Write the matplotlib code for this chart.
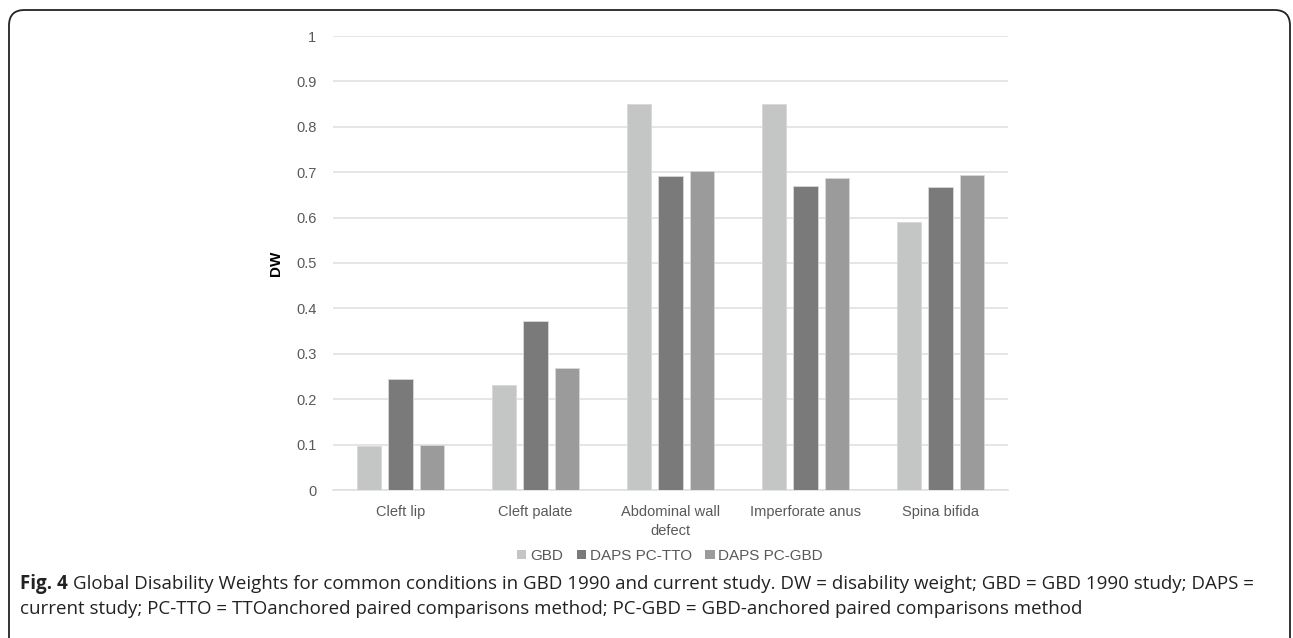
import numpy as np
import matplotlib
matplotlib.use("Agg")
import matplotlib.pyplot as plt
from matplotlib.patches import FancyBboxPatch, Patch

# data
categories = ["Cleft lip", "Cleft palate", "Abdominal wall\ndefect", "Imperforate anus", "Spina bifida"]
gbd = [0.098, 0.231, 0.850, 0.850, 0.590]
daps_tto = [0.244, 0.372, 0.692, 0.670, 0.667]
daps_gbd = [0.099, 0.269, 0.703, 0.687, 0.693]
series_names = ["GBD", "DAPS PC-TTO", "DAPS PC-GBD"]
colors = ["#c4c6c5", "#7a7a7a", "#9a9b9a"]
yticks = [0, 0.1, 0.2, 0.3, 0.4, 0.5, 0.6, 0.7, 0.8, 0.9, 1]

W, H = 1293, 638
fig = plt.figure(figsize=(W / 100, H / 100), dpi=100)

# rounded frame round the whole figure
frame = FancyBboxPatch((9 / W, -20 / H), (1290 - 9) / W, (H - 10 + 20) / H,
                       boxstyle="round,pad=0,rounding_size=0.012",
                       transform=fig.transFigure, fill=False,
                       edgecolor="#222222", linewidth=1.3, mutation_aspect=W / H)
fig.patches.append(frame)

ax = fig.add_axes([333 / W, 1 - 490 / H, (1008 - 333) / W, (490 - 36) / H])

x = np.arange(len(categories))
bw = 0.178
step = 0.23
for i, (vals, name, c) in enumerate(zip([gbd, daps_tto, daps_gbd], series_names, colors)):
    ax.bar(x + (i - 1) * step, vals, bw, color=c, edgecolor="#d8d8d8", linewidth=0.6,
           label=name, zorder=3)

ax.set_xlim(-0.5, len(categories) - 0.5)
ax.set_ylim(0, 1)
ax.set_yticks(yticks)
ax.set_yticklabels(["0", "0.1", "0.2", "0.3", "0.4", "0.5", "0.6", "0.7", "0.8", "0.9", "1"])
ax.set_xticks(x)
ax.set_xticklabels(categories, linespacing=1.4)
ax.tick_params(axis="both", length=0, labelsize=10.5, labelcolor="#595959")
ax.tick_params(axis="y", pad=12)
ax.tick_params(axis="x", pad=11)
for lab in ax.get_xticklabels() + ax.get_yticklabels():
    lab.set_family("Liberation Sans")
ax.yaxis.grid(True, color="#dedede", linewidth=1.1, zorder=0)
ax.set_axisbelow(True)
for s in ["top", "right", "left"]:
    ax.spines[s].set_visible(False)
ax.spines["bottom"].set_color("#dedede")
ax.spines["bottom"].set_linewidth(1.1)

ax.set_ylabel("DW", fontsize=11, fontweight="bold", family="Liberation Sans", labelpad=9)

handles = [Patch(facecolor=c, edgecolor="none") for c in colors]
leg = fig.legend(handles, series_names, loc="center", bbox_to_anchor=(670 / W, 1 - 556 / H),
                 ncol=3, frameon=False, handlelength=0.6, handleheight=0.6,
                 handletextpad=0.25, columnspacing=0.9,
                 prop={"family": "Liberation Sans", "size": 11})
for t in leg.get_texts():
    t.set_color("#595959")

# caption
cap_size = 13.5
t1 = fig.text(20 / W, 1 - 589 / H, "Fig. 4", fontsize=cap_size, fontweight="bold",
              family="Open Sans", color="#222222", va="baseline")
fig.canvas.draw()
bb = t1.get_window_extent()
fig.text((bb.x1 + 5) / W, 1 - 589 / H,
         "Global Disability Weights for common conditions in GBD 1990 and current study. "
         "DW = disability weight; GBD = GBD 1990 study; DAPS =",
         fontsize=cap_size, family="Open Sans", color="#222222", va="baseline")
fig.text(20 / W, 1 - 614 / H,
         "current study; PC-TTO = TTOanchored paired comparisons method; "
         "PC-GBD = GBD-anchored paired comparisons method",
         fontsize=cap_size, family="Open Sans", color="#222222", va="baseline")

fig.savefig("out.png", dpi=100)
